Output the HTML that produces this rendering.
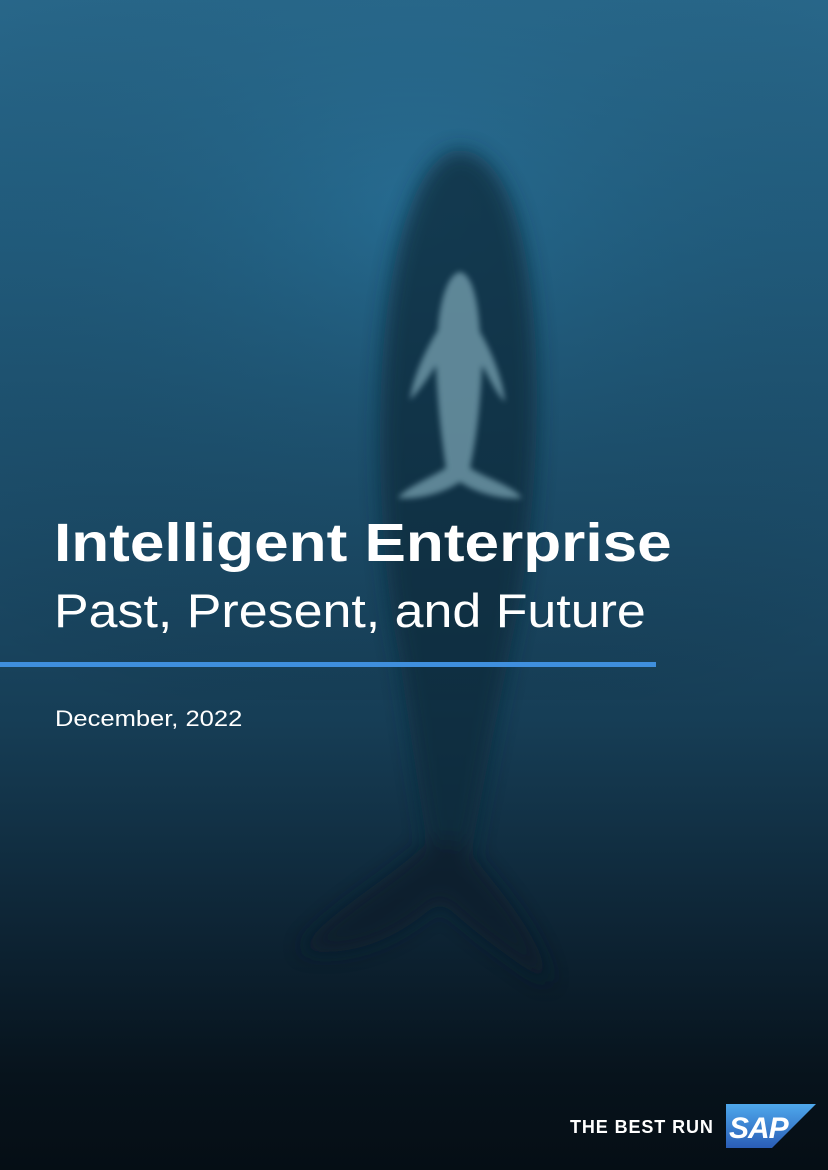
<!DOCTYPE html>
<html><head><meta charset="utf-8"><style>
html,body{margin:0;padding:0}
body{width:828px;height:1170px;position:relative;overflow:hidden;font-family:"Liberation Sans",sans-serif;
background:linear-gradient(180deg,#2b6e93 0%,#236184 20%,#1c4d6a 45%,#163d55 62%,#0e2637 78%,#07131c 92%,#050e15 100%);}
.t{position:absolute;color:#fff;white-space:nowrap;transform-origin:0 0}
</style></head><body>
<svg width="828" height="1170" style="position:absolute;left:0;top:0">
<defs>
<radialGradient id="v" cx="0.5" cy="0.3" r="0.8"><stop offset="0" stop-color="#2a7aa3" stop-opacity="0.35"/><stop offset="1" stop-color="#000" stop-opacity="0"/></radialGradient>
<linearGradient id="s" x1="0" y1="0" x2="0" y2="1"><stop offset="0" stop-color="#4ea8ec"/><stop offset="1" stop-color="#2a5db6"/></linearGradient>
<filter id="b"><feGaussianBlur stdDeviation="10"/></filter>
<filter id="b2"><feGaussianBlur stdDeviation="3"/></filter>
</defs>
<rect width="828" height="700" fill="url(#v)"/>
<g filter="url(#b)" opacity="0.75">
<path d="M455 150 C420 160 395 230 385 330 C375 430 380 560 400 660 C410 730 420 800 430 860 L470 860 C480 800 500 700 520 600 C540 480 545 330 520 230 C505 170 480 148 455 150 Z" fill="#0f2a3a"/>
<path d="M430 840 C390 880 330 910 300 950 C360 960 410 930 440 900 C470 930 520 965 550 985 C540 930 490 880 460 840 Z" fill="#0c1f2b"/>
</g>
<g filter="url(#b2)" opacity="0.7">
<path d="M460 272 C448 274 440 300 438 330 C425 350 412 380 410 400 C420 390 430 375 436 365 C438 410 442 440 446 468 C430 478 405 488 398 498 C420 500 445 492 460 482 C475 492 500 500 522 498 C512 485 485 478 470 468 C476 440 480 410 482 365 C488 375 495 392 505 402 C503 380 492 352 480 332 C478 300 472 274 460 272 Z" fill="#7fa9b8"/>
</g>
</svg>
<div class="t" style="left:54px;top:512px;font-size:54px;font-weight:bold;transform:scaleX(1.15)">Intelligent Enterprise</div>
<div class="t" style="left:54px;top:583px;font-size:47px;transform:scaleX(1.105)">Past, Present, and Future</div>
<div style="position:absolute;left:0;top:662px;width:656px;height:5px;background:#3f8fdd"></div>
<div class="t" style="left:55px;top:706px;font-size:22px;transform:scaleX(1.16)">December, 2022</div>
<div class="t" style="left:570px;top:1117px;font-size:18px;font-weight:bold;letter-spacing:0.9px">THE BEST RUN</div>
<svg width="92" height="46" style="position:absolute;left:726px;top:1104px">
<polygon points="0,0 90,0 46,44 0,44" fill="url(#s)"/>
<text x="3" y="34" font-family="Liberation Sans" font-weight="bold" font-style="italic" font-size="30" fill="#fff" letter-spacing="-1">SAP</text>
</svg>
</body></html>
